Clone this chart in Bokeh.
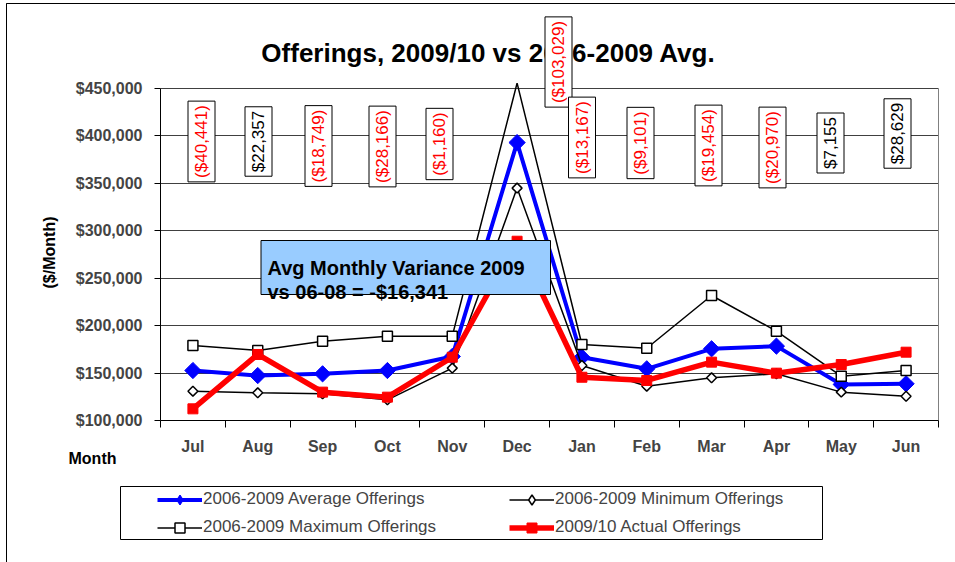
import math
from bokeh.plotting import figure
from bokeh.models import (FixedTicker, NumeralTickFormatter, Label, BoxAnnotation,
                          Legend, LegendItem, Range1d)
from bokeh.embed import file_html
from bokeh.resources import INLINE

# ---------------- data ----------------
months = ["Jul", "Aug", "Sep", "Oct", "Nov", "Dec", "Jan", "Feb", "Mar", "Apr", "May", "Jun"]
avg_offerings = [152700, 147400, 149200, 152700, 167500, 393000, 166700, 154500, 175600, 178400, 138000, 138700]
min_offerings = [130900, 129200, 128100, 121800, 155200, 345000, 158000, 136200, 145000, 149200, 129900, 125600]
max_offerings = [179100, 173800, 183600, 188900, 188900, 455600, 180100, 176200, 231800, 194200, 146700, 152700]
actual_offerings = [112300, 169600, 129900, 124600, 166700, 289000, 145600, 142200, 161500, 149900, 159000, 172000]
variance = [-40441, 22357, -18749, -28166, -1160, -103029, -13167, -9101, -19454, -20970, 7155, 28629]
y_ticks = [100000, 150000, 200000, 250000, 300000, 350000, 400000, 450000]

title_text = "Offerings, 2009/10 vs 2006-2009 Avg."
note_lines = ["Avg Monthly Variance 2009", "vs 06-08 = -$16,341"]
series_names = ["2006-2009 Average Offerings", "2006-2009 Minimum Offerings",
                "2006-2009 Maximum Offerings", "2009/10 Actual Offerings"]

# ---------------- layout ----------------
FONT = "Liberation Sans"
W, H = 955, 562
# plot-area pixel geometry (page pixels)
PL, PR, PT, PB = 160, 938, 88, 420
XA, XB = -0.5, len(months) - 0.5          # category extent of the plot area
YA, YB = y_ticks[0], y_ticks[-1]          # value extent of the plot area
kx = (XB - XA) / (PR - PL)
ky = (YB - YA) / (PB - PT)
X_START, X_END = XA - PL * kx, XB + (W - PR) * kx
Y_START, Y_END = YA - (H - PB) * ky, YB + PT * ky


def px_x(px):
    return X_START + px * kx


def px_y(py):
    return Y_END - py * ky


# variance label box centres (page pixels)
label_px = [(201, 141), (258, 141), (318, 145.5), (382, 146), (439, 143.5), (558, 61.5),
            (581.5, 137), (640, 142.5), (708, 145), (772, 147), (830, 142.5), (897, 133)]

p = figure(width=W, height=H, output_backend="svg", toolbar_location=None, title=None,
           x_range=Range1d(X_START, X_END), y_range=Range1d(Y_START, Y_END),
           min_border=0, min_border_left=0, min_border_right=0,
           min_border_top=0, min_border_bottom=0)
p.outline_line_color = None
p.background_fill_color = "white"
p.border_fill_color = "white"

# axes (drawn at the plot-area edges)
xs = list(range(len(months)))
p.xaxis.fixed_location = YA
p.xaxis.bounds = (XA, XB)
p.xaxis.ticker = FixedTicker(ticks=xs, minor_ticks=[i - 0.5 for i in range(len(months) + 1)])
p.xaxis.major_label_overrides = {i: m for i, m in enumerate(months)}
p.xaxis.major_tick_line_color = None
p.xaxis.major_tick_out = 0
p.xaxis.major_tick_in = 0
p.xaxis.minor_tick_line_color = "black"
p.xaxis.minor_tick_out = 7
p.xaxis.minor_tick_in = 0
p.xaxis.major_label_standoff = 10
p.xaxis.major_label_text_font = FONT
p.xaxis.major_label_text_font_style = "bold"
p.xaxis.major_label_text_font_size = "16px"
p.xaxis.axis_line_color = "black"

p.yaxis.fixed_location = XA
p.yaxis.ticker = FixedTicker(ticks=y_ticks, minor_ticks=[])
p.yaxis.bounds = (YA, YB)
p.yaxis.formatter = NumeralTickFormatter(format="$0,0")
p.yaxis.major_tick_out = 6
p.yaxis.major_tick_in = 0
p.yaxis.minor_tick_line_color = None
p.yaxis.major_label_standoff = 12
p.yaxis.major_label_text_font = FONT
p.yaxis.major_label_text_font_style = "bold"
p.yaxis.major_label_text_font_size = "16px"
p.yaxis.axis_line_color = "black"

p.xgrid.visible = False
p.ygrid.ticker = FixedTicker(ticks=y_ticks[1:])
p.ygrid.bounds = (YA, YB)
try:
    p.ygrid.cross_bounds = (XA, XB)
except Exception:
    pass
p.ygrid.grid_line_color = "#404040"
p.ygrid.grid_line_width = 1

# right edge of the plot area
p.segment(x0=[XB], y0=[YA], x1=[XB], y1=[YB], line_color="#808080", line_width=1)

# outer chart border (left and top edges visible)
p.add_layout(BoxAnnotation(left=px_x(6), top=px_y(3), right=px_x(W + 20), bottom=px_y(H + 20),
                           fill_alpha=0, line_color="black", line_width=1, line_alpha=1.0))
p.segment(x0=[px_x(6)], y0=[px_y(3)], x1=[px_x(W + 5)], y1=[px_y(3)],
          line_color="black", line_width=1.2)


# series
def visible(vals):
    return [v if v <= YB else float("nan") for v in vals]


NAN = [float("nan")]

l_avg = p.line(xs, avg_offerings, line_color="#0000FF", line_width=4)
m_avg = p.scatter(xs, visible(avg_offerings), marker="square", angle=math.pi / 4, size=11.5,
                  fill_color="#0000FF", line_color="#0000FF", line_width=1)
k_avg = p.scatter(NAN, NAN, marker="diamond", fill_color="#0000FF", line_color="#0000FF",
                  line_width=1)
l_min = p.line(xs, min_offerings, line_color="black", line_width=1.5)
m_min = p.scatter(xs, visible(min_offerings), marker="square", angle=math.pi / 4, size=7,
                  fill_color="white", line_color="black", line_width=1.5)
k_min = p.scatter(NAN, NAN, marker="diamond", fill_color="white", line_color="black",
                  line_width=1.5)
l_max = p.line(xs, max_offerings, line_color="black", line_width=1.5)
m_max = p.scatter(xs, visible(max_offerings), marker="square", size=10,
                  fill_color="white", line_color="black", line_width=1.5)
l_act = p.line(xs, actual_offerings, line_color="#FF0000", line_width=5.5)
m_act = p.scatter(xs, visible(actual_offerings), marker="square", size=10,
                  fill_color="#FF0000", line_color="#FF0000")

# title (as label so that the Dec box can sit over it)
p.add_layout(Label(x=px_x(488), y=px_y(52), text=title_text, text_align="center",
                   text_baseline="alphabetic", text_font=FONT, text_font_style="bold",
                   text_font_size="26px", text_color="black"))

# y axis title
p.add_layout(Label(x=px_x(49), y=px_y(252), text="($/Month)", angle=math.pi / 2,
                   text_align="center", text_baseline="middle", text_font=FONT,
                   text_font_style="bold", text_font_size="16px", text_color="black"))

# "Month" label
p.add_layout(Label(x=px_x(92), y=px_y(458), text="Month", text_align="center",
                   text_baseline="alphabetic", text_font=FONT, text_font_style="bold",
                   text_font_size="16px", text_color="black"))

# variance boxes
for v, (cx, cy) in zip(variance, label_px):
    txt = f"(${abs(v):,})" if v < 0 else f"${v:,}"
    p.add_layout(Label(x=px_x(cx), y=px_y(cy), text=txt, angle=math.pi / 2,
                       text_align="center", text_baseline="middle",
                       text_font=FONT, text_font_size="17px",
                       text_color="#FF0000" if v < 0 else "black",
                       background_fill_color="white", border_line_color="black",
                       border_line_width=1, padding=4))

# note box
p.add_layout(BoxAnnotation(left=px_x(260.5), right=px_x(550), top=px_y(240), bottom=px_y(294),
                           fill_color="#99CCFF", fill_alpha=1.0, line_color="black",
                           line_width=1, line_alpha=1.0))
for line, base in zip(note_lines, [267, 291]):
    p.add_layout(Label(x=px_x(267), y=px_y(base), text=line, text_align="left",
                       text_baseline="alphabetic", text_font=FONT, text_font_style="bold",
                       text_font_size="20px", text_color="black"))

# legend frame
p.add_layout(BoxAnnotation(left=px_x(120), right=px_x(822), top=px_y(486), bottom=px_y(539),
                           fill_alpha=0, line_color="black", line_width=1, line_alpha=1.0))

LEG_ROW_H, LEG_SPACING = 25, 3
LEG_H = 2 * LEG_ROW_H + LEG_SPACING


def make_legend(items, left_px, top_px):
    return Legend(items=items, location=(left_px, H - top_px - LEG_H),
                  orientation="vertical", padding=0, margin=0, spacing=LEG_SPACING,
                  glyph_width=45, glyph_height=LEG_ROW_H, label_height=LEG_ROW_H,
                  label_standoff=1, label_text_font=FONT, label_text_font_size="17px",
                  background_fill_alpha=0, border_line_color=None)


leg_a = make_legend([LegendItem(label=series_names[0], renderers=[l_avg, k_avg]),
                     LegendItem(label=series_names[2], renderers=[l_max, m_max])], 157, 486.5)
leg_b = make_legend([LegendItem(label=series_names[1], renderers=[l_min, k_min]),
                     LegendItem(label=series_names[3], renderers=[l_act, m_act])], 509, 486.5)
p.add_layout(leg_a)
p.add_layout(leg_b)

open("out.html", "w").write(file_html(p, INLINE))
